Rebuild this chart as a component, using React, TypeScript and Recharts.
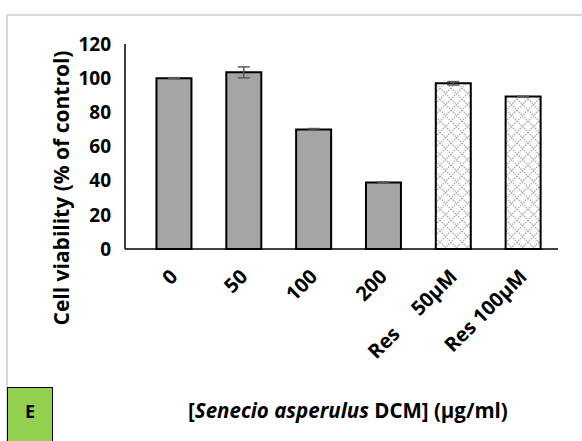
import { Bar, BarChart, Cell, ErrorBar, XAxis, YAxis } from "recharts";

const categories = ["0", "50", "100", "200", "Res     50µM", "Res 100µM"];
const viability = [100, 103.4, 70, 39, 97, 89.2];
const errors = [0.3, 3.2, 0.5, 0.3, 1, 0.3];
const hatched = [false, false, false, false, true, true];
const yTicks = [0, 20, 40, 60, 80, 100, 120];

const data = categories.map((name, i) => ({ name, value: viability[i], err: errors[i] }));

const font = "'Open Sans', sans-serif";

function XTick(props: any) {
  const { x, y, payload } = props;
  const ax = x + 5;
  const ay = y + 21;
  return (
    <text
      x={ax}
      y={ay}
      transform={`rotate(-45 ${ax} ${ay})`}
      textAnchor="end"
      fontFamily={font}
      fontWeight={700}
      fontSize={20}
      fill="#000"
      style={{ whiteSpace: "pre" }}
    >
      {payload.value}
    </text>
  );
}

export default function App() {
  return (
    <div style={{ position: "absolute", left: 0, top: 0, width: 582, height: 441, background: "#fff", overflow: "hidden" }}>
      <div style={{ position: "absolute", left: 6, top: 14, width: 620, height: 500, border: "2px solid #d9d9d9" }} />
      <BarChart
        width={582}
        height={441}
        data={data}
        margin={{ top: 44, right: 24, bottom: 132, left: 65 }}
        barCategoryGap="25%"
        style={{ position: "absolute", left: 0, top: 0 }}
      >
        <defs>
          <pattern id="hatch" width="11" height="11" patternUnits="userSpaceOnUse">
            <rect width="11" height="11" fill="#fff" />
            <path d="M0,0 L11,11 M11,0 L0,11" stroke="#a6a6a6" strokeWidth={1.2} strokeDasharray="1.5 1" />
          </pattern>
        </defs>
        <XAxis
          dataKey="name"
          height={60}
          interval={0}
          tickLine={false}
          axisLine={{ stroke: "#000", strokeWidth: 1.5 }}
          padding={{ left: 14, right: 0 }}
          tick={<XTick />}
        />
        <YAxis
          width={60}
          domain={[0, 120]}
          ticks={yTicks}
          tickLine={false}
          axisLine={{ stroke: "#000", strokeWidth: 1.5 }}
          tick={{ fill: "#000", fontFamily: font, fontWeight: 700, fontSize: 19 }}
          tickMargin={8}
          label={{
            content: () => (
              <text
                x={69}
                y={188}
                transform="rotate(-90 69 188)"
                textAnchor="middle"
                fontFamily={font}
                fontWeight={700}
                fontSize={21}
                fill="#000"
              >
                Cell viability (% of control)
              </text>
            ),
          }}
        />
        <Bar dataKey="value" fill="#a5a5a5" stroke="#000" strokeWidth={2} isAnimationActive={false}>
          {data.map((d, i) => (
            <Cell key={d.name} fill={hatched[i] ? "url(#hatch)" : "#a5a5a5"} />
          ))}
          <ErrorBar dataKey="err" width={6} stroke="#595959" strokeWidth={1.5} isAnimationActive={false} />
        </Bar>
      </BarChart>
      <div
        style={{
          position: "absolute",
          left: 7,
          top: 387,
          width: 44,
          height: 70,
          background: "#92d050",
          border: "1.5px solid #000",
        }}
      >
        <div style={{ position: "absolute", left: 0, top: 11, width: 44, textAlign: "center", fontFamily: font, fontWeight: 700, fontSize: 18 }}>
          E
        </div>
      </div>
      <div
        style={{
          position: "absolute",
          left: 188,
          top: 396,
          fontFamily: font,
          fontWeight: 700,
          fontSize: 20.5,
          whiteSpace: "nowrap",
          color: "#000",
        }}
      >
        [<i>Senecio asperulus</i> DCM] (µg/ml)
      </div>
    </div>
  );
}
